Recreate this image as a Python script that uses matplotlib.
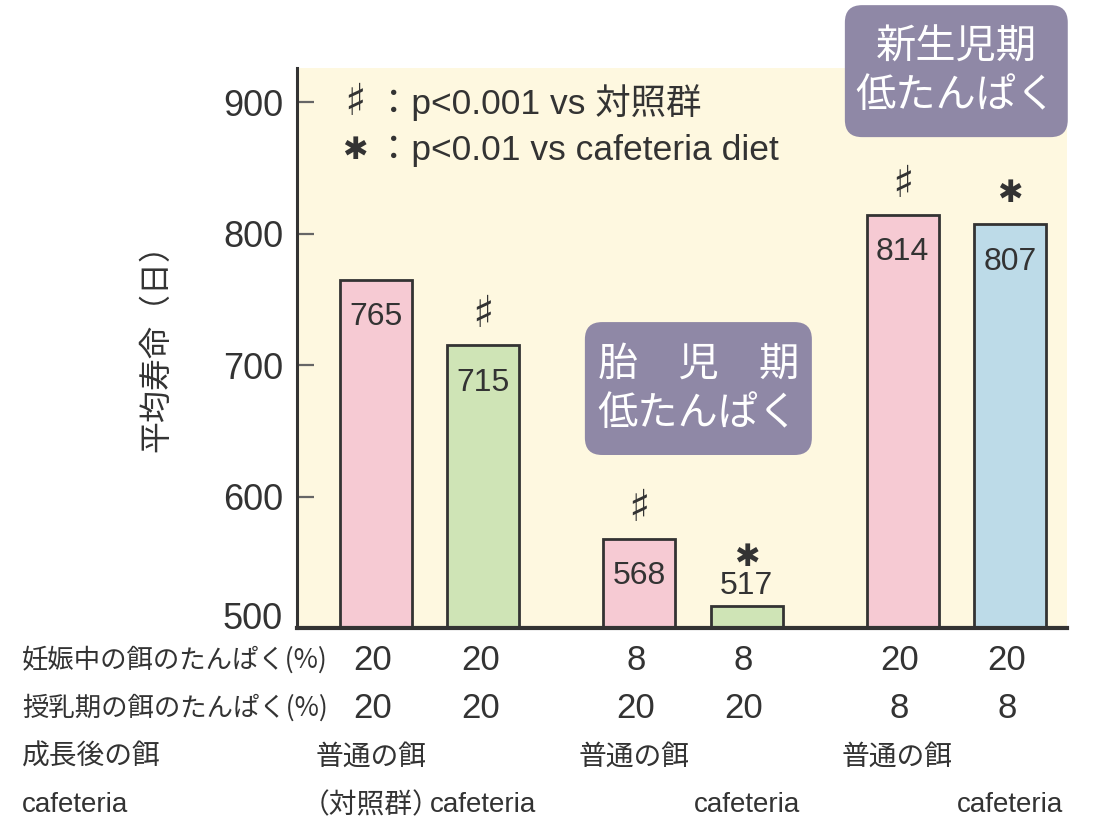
import matplotlib
matplotlib.use("Agg")
import matplotlib.pyplot as plt
import matplotlib.transforms as mtransforms
from matplotlib.patches import FancyBboxPatch

plt.rcParams['font.family'] = ['Liberation Sans', 'Noto Sans CJK JP', 'DejaVu Sans']

# ---- data -------------------------------------------------------------
lifespan = [765, 715, 568, 517, 814, 807]            # mean lifespan (days)
pregnancy_protein = ['20', '20', '8', '8', '20', '20']   # protein in diet during pregnancy (%)
lactation_protein = ['20', '20', '20', '20', '8', '8']   # protein in diet during lactation (%)
adult_diet = ['普通の餌', 'cafeteria', '普通の餌', 'cafeteria', '普通の餌', 'cafeteria']
significance = ['', '♯', '♯', '✱', '♯', '✱']
bar_colors = ['#F6CAD3', '#CFE4B6', '#F6CAD3', '#CFE4B6', '#F6CAD3', '#BDDBE8']
y_ticks = [500, 600, 700, 800, 900]
row_labels = ['妊娠中の餌のたんぱく(%)', '授乳期の餌のたんぱく(%)', '成長後の餌', 'cafeteria']
legend_marks = ['♯', '✱']
legend_lines = ['：p<0.001 vs 対照群', '：p<0.01 vs cafeteria diet']
period_labels = ['胎　児　期\n低たんぱく', '新生児期\n低たんぱく']

# ---- layout -----------------------------------------------------------
group_step = 2.45
x = [g * group_step + i for g in range(3) for i in range(2)]
y_min, y_max = 500, 926
ink = '#333333'
cjk = ['Noto Sans CJK JP', 'DejaVu Sans']
mark_size = {'♯': 32, '✱': 22}

fig = plt.figure(figsize=(10.99, 8.25), dpi=100)
ax = fig.add_axes([0.2702, 0.2388, 0.7007, 0.6788])
ax.set_facecolor('#FEF8E0')

bars = ax.bar(x, lifespan, width=0.67, color=bar_colors, edgecolor=ink,
              linewidth=2.0, zorder=2)
ax.set_xlim(-0.735, 6.43)
ax.set_ylim(y_min, y_max)

for rect, v, s in zip(bars, lifespan, significance):
    cx = rect.get_x() + rect.get_width() / 2
    if v - y_min > 40:
        # value fits inside the bar
        ax.annotate(str(v), (cx, v), xytext=(0, -16), textcoords='offset points',
                    ha='center', va='top', fontsize=23, color=ink, zorder=3)
        mark_off = 22
    else:
        # bar too short: value sits just above it
        ax.annotate(str(v), (cx, v), xytext=(0, 3), textcoords='offset points',
                    ha='center', va='bottom', fontsize=23, color=ink, zorder=3)
        mark_off = 35
    if s:
        ax.annotate(s, (cx, v), xytext=(0, mark_off), textcoords='offset points',
                    ha='center', va='center', fontsize=mark_size[s], color=ink,
                    family=['DejaVu Sans'], annotation_clip=False)

# axes styling
for side in ('top', 'right'):
    ax.spines[side].set_visible(False)
ax.spines['left'].set_color(ink)
ax.spines['left'].set_linewidth(2.2)
ax.spines['bottom'].set_color(ink)
ax.spines['bottom'].set_linewidth(3.0)
ax.spines['bottom'].set_zorder(4)
ax.set_xticks([])
ax.set_yticks(y_ticks)
ax.tick_params(axis='y', direction='in', length=12, width=1.6, color='#666666',
               pad=10, labelsize=26, labelcolor=ink)
# lift the baseline label so it sits above the axis line
fig.canvas.draw()
base_label = ax.yaxis.get_major_ticks()[0].label1
base_label.set_transform(base_label.get_transform() +
                         mtransforms.ScaledTranslation(0, 12 / 100, fig.dpi_scale_trans))
ax.set_ylabel('平均寿命（日）', fontsize=23, color=ink, family=cjk)
ax.yaxis.set_label_coords(-0.162, 0.514)

# significance legend
for yy, m, line in zip([900, 863], legend_marks, legend_lines):
    ax.text(-0.20, yy, m, fontsize=mark_size[m], color=ink, va='center', ha='center',
            family=['DejaVu Sans'])
    ax.text(0.0, yy, line, fontsize=25.5, color=ink, va='center', ha='left')

# period boxes
box_specs = [((1.944, 631.6), 2.112, 101.1, (3.0, 682)),
             ((4.363, 873.4), 2.074, 100.4, (5.4, 923.6))]
aspect = (y_max - y_min) / 0.6788 / 8.25 / ((6.43 + 0.735) / 0.7007 / 10.99)
for (xy, w, h, center), label in zip(box_specs, period_labels):
    ax.add_patch(FancyBboxPatch(xy, w, h, boxstyle='round,pad=0,rounding_size=0.16',
                                mutation_aspect=aspect, facecolor='#8F88A6',
                                edgecolor='none', clip_on=False, zorder=5))
    ax.text(center[0], center[1], label, fontsize=29, color='white', ha='center',
            va='center', linespacing=1.25, clip_on=False, zorder=6, family=cjk)

# condition table under the axis
tr = mtransforms.blended_transform_factory(ax.transData, fig.transFigure)
row_y = [0.200, 0.1418, 0.0824, 0.0242]
for label, yy in zip(row_labels, row_y):
    fam = cjk if label != 'cafeteria' else ['Liberation Sans']
    fs = 19 if '%' in label else 20
    fig.text(0.020, yy, label, fontsize=fs, color=ink, ha='left', va='center',
             family=fam)
for xi, p, l, d in zip(x, pregnancy_protein, lactation_protein, adult_diet):
    ax.text(xi - 0.03, row_y[0], p, transform=tr, fontsize=25, color=ink,
            ha='center', va='center')
    ax.text(xi - 0.03, row_y[1], l, transform=tr, fontsize=25, color=ink,
            ha='center', va='center')
    if d == 'cafeteria':
        ax.text(xi, row_y[3], d, transform=tr, fontsize=20, color=ink,
                ha='center', va='center')
    else:
        ax.text(xi - 0.05, row_y[2], d, transform=tr, fontsize=20, color=ink,
                ha='center', va='center', family=cjk)
ax.text(x[0] - 0.05, row_y[3], '（対照群）', transform=tr, fontsize=20, color=ink,
        ha='center', va='center', family=cjk)

fig.savefig('out.png', dpi=100, facecolor='white')
